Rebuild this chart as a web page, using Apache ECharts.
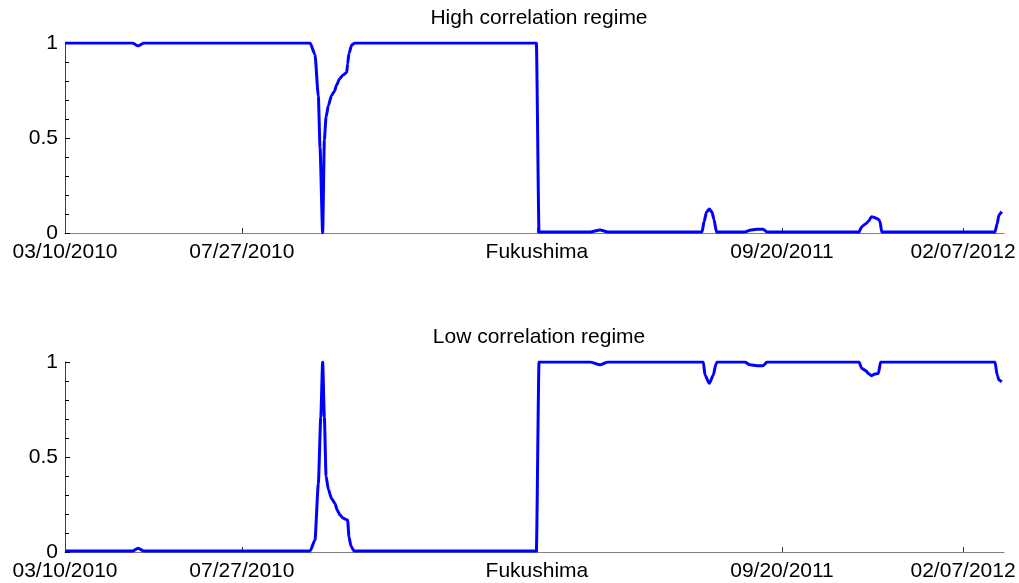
<!DOCTYPE html>
<html lang="en">
<head>
    <meta charset="UTF-8">
    <title>Correlation regimes</title>
    <script type="text/javascript" src="https://cdn.jsdelivr.net/npm/echarts@6/dist/echarts.min.js"></script>
    <style>
        body{
            margin: 0;
            background: #fff;
        }
        #main{
            width: 1019px;
            height: 583px;
        }
    </style>
</head>
<body>
<div id="main"></div>
<script>
    // x = trading day counted from 03/10/2010
    const tickDays = [0, 94.2, 251.3, 381.8, 478.2];
    const tickNames = ['03/10/2010', '07/27/2010', 'Fukushima', '09/20/2011', '02/07/2012'];
    const panelTitles = ['High correlation regime', 'Low correlation regime'];

    // high correlation regime probability
    const highDay = [0, 36, 38.9, 42, 130.5, 133.1, 134.9, 135.8, 137.2, 138.1, 139.0, 140.2, 142.0, 143.4, 144.7,
        146.1, 147.9, 150.0, 150.5, 151.2, 152.7, 154.4, 251, 252.4, 279.6, 284.9, 289.1,
        339.2, 340.3, 341.6, 343.1, 344.5, 345.6, 346.9, 362.1, 364.7, 368.5, 371.7, 373.8,
        422.8, 424.2, 426.0, 427.7, 429.5, 431.3, 433.1, 434.0, 434.9, 495.2, 496.4, 497.3, 498.8];
    const highVal = [1, 1, 0.985, 1, 1, 0.94, 0.72, 0.45, 0.0, 0.49, 0.61, 0.67, 0.725, 0.745, 0.78,
        0.81, 0.83, 0.845, 0.89, 0.945, 0.99, 1, 1, 0.005, 0.005, 0.016, 0.005,
        0.005, 0.06, 0.11, 0.126, 0.11, 0.07, 0.005, 0.005, 0.015, 0.02, 0.02, 0.005,
        0.005, 0.033, 0.046, 0.06, 0.086, 0.08, 0.072, 0.06, 0.005, 0.005, 0.05, 0.095, 0.112];

    // low correlation regime probability
    const lowDay = [0, 36, 38.9, 42, 130.5, 133.1, 134.9, 136.2, 137.2, 138.1, 139.0, 140.2, 142.0, 143.7, 145.0,
        146.4, 148.2, 150.5, 151.2, 152.3, 153.9, 251, 252.4, 279.6, 284.9, 289.1,
        339.9, 340.8, 343.1, 345.2, 346.6, 347.3, 362.1, 364.7, 368.5, 371.7, 373.8,
        422.8, 424.2, 426.5, 427.7, 429.5, 431.3, 433.1, 434.3, 495.2, 496.4, 497.3, 498.8];
    const lowVal = [0.005, 0.005, 0.02, 0.005, 0.005, 0.063, 0.36, 0.71, 1.0, 0.71, 0.40, 0.33, 0.28, 0.256, 0.22,
        0.195, 0.177, 0.168, 0.08, 0.03, 0.005, 0.005, 1, 1, 0.985, 1,
        1, 0.93, 0.888, 0.93, 0.99, 1, 1, 0.985, 0.98, 0.98, 1,
        1, 0.967, 0.954, 0.94, 0.928, 0.937, 0.94, 1, 1, 0.93, 0.905, 0.896];

    const font = 'Liberation Sans, Arial, Helvetica, sans-serif';

    function pairs(days, vals) {
        return days.map((d, i) => [d, vals[i]]);
    }

    function xAxisFor(gridIndex) {
        return {
            type: 'value',
            gridIndex: gridIndex,
            min: 0,
            max: 500,
            splitLine: {show: false},
            axisLine: {show: true, lineStyle: {color: '#808080', width: 1}},
            axisTick: {
                show: true,
                inside: true,
                length: 5,
                customValues: tickDays.slice(1),
                lineStyle: {color: '#333'}
            },
            axisLabel: {
                show: true,
                margin: 9,
                color: '#000',
                fontSize: 21,
                fontFamily: font,
                customValues: tickDays,
                formatter: function (v) {
                    const i = tickDays.indexOf(v);
                    return i >= 0 ? tickNames[i] : '';
                }
            }
        };
    }

    function yAxisFor(gridIndex) {
        return {
            type: 'value',
            gridIndex: gridIndex,
            min: 0,
            max: 1,
            interval: 0.5,
            splitLine: {show: false},
            axisLine: {show: true, lineStyle: {color: '#404040', width: 1}},
            axisTick: {show: true, inside: true, length: 5, lineStyle: {color: '#000'}},
            minorTick: {show: true, splitNumber: 5, length: 4, lineStyle: {color: '#000'}},
            axisLabel: {
                margin: 7,
                color: '#000',
                fontSize: 21,
                fontFamily: font
            }
        };
    }

    function lineFor(idx, days, vals) {
        return {
            type: 'line',
            xAxisIndex: idx,
            yAxisIndex: idx,
            data: pairs(days, vals),
            showSymbol: false,
            smooth: 0.2,
            smoothMonotone: 'x',
            lineStyle: {color: '#0000ff', width: 3},
            itemStyle: {color: '#0000ff'}
        };
    }

    const chart = echarts.init(document.getElementById('main'));
    chart.setOption({
        animation: false,
        backgroundColor: '#fff',
        title: [
            {
                text: panelTitles[0], left: 534, top: 3, textAlign: 'center',
                textStyle: {fontSize: 21, fontWeight: 'normal', color: '#000', fontFamily: font}
            },
            {
                text: panelTitles[1], left: 534, top: 322, textAlign: 'center',
                textStyle: {fontSize: 21, fontWeight: 'normal', color: '#000', fontFamily: font}
            }
        ],
        grid: [
            {left: 65, top: 43, width: 939, height: 190},
            {left: 65, top: 362, width: 939, height: 190}
        ],
        xAxis: [xAxisFor(0), xAxisFor(1)],
        yAxis: [yAxisFor(0), yAxisFor(1)],
        series: [
            lineFor(0, highDay, highVal),
            lineFor(1, lowDay, lowVal)
        ]
    });
</script>
</body>
</html>
